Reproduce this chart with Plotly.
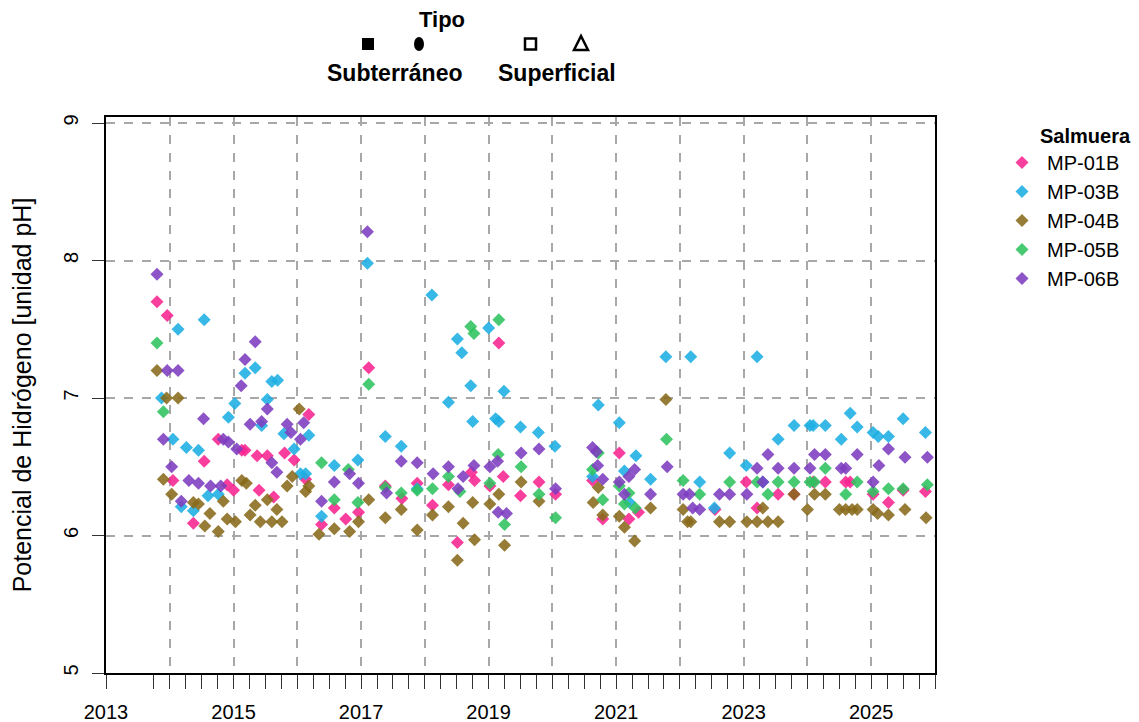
import plotly.graph_objects as go

# fechas en años decimales, pH
mp01b_x = [2013.80, 2013.96, 2014.05, 2014.37, 2014.54, 2014.76, 2014.90, 2015.00, 2015.13, 2015.18,
           2015.37, 2015.40, 2015.53, 2015.63, 2015.80, 2015.95, 2016.13, 2016.18, 2016.38, 2016.58,
           2016.76, 2016.96, 2017.12, 2017.38, 2017.64, 2017.88, 2018.12, 2018.37, 2018.51, 2018.73,
           2018.78, 2019.02, 2019.16, 2019.23, 2019.50, 2019.79, 2020.05, 2020.63, 2020.79, 2021.05,
           2021.20, 2021.35, 2022.55, 2023.04, 2023.21, 2023.54, 2023.79, 2024.09, 2024.28, 2024.60,
           2024.67, 2025.03, 2025.27, 2025.50, 2025.85]
mp01b_y = [7.70, 7.60, 6.40, 6.09, 6.54, 6.70, 6.37, 6.33, 6.62, 6.62,
           6.58, 6.33, 6.58, 6.28, 6.60, 6.55, 6.41, 6.88, 6.08, 6.20,
           6.12, 6.17, 7.22, 6.36, 6.27, 6.38, 6.22, 6.37, 5.95, 6.46,
           6.40, 6.36, 7.40, 6.43, 6.29, 6.39, 6.30, 6.40, 6.12, 6.60,
           6.12, 6.17, 6.19, 6.39, 6.20, 6.30, 6.30, 6.39, 6.39, 6.39,
           6.39, 6.30, 6.24, 6.33, 6.32]

mp03b_x = [2013.87, 2014.05, 2014.13, 2014.18, 2014.26, 2014.37, 2014.45, 2014.54, 2014.60, 2014.76,
           2014.92, 2015.02, 2015.18, 2015.34, 2015.44, 2015.53, 2015.60, 2015.69, 2015.79, 2015.95,
           2016.05, 2016.13, 2016.18, 2016.38, 2016.58, 2016.95, 2017.10, 2017.38, 2017.63, 2017.88,
           2018.11, 2018.37, 2018.51, 2018.58, 2018.72, 2018.75, 2019.00, 2019.11, 2019.16, 2019.24,
           2019.50, 2019.78, 2020.04, 2020.63, 2020.72, 2021.05, 2021.13, 2021.21, 2021.31, 2021.54,
           2021.78, 2022.17, 2022.31, 2022.54, 2022.78, 2023.04, 2023.21, 2023.30, 2023.54, 2023.79,
           2024.04, 2024.09, 2024.28, 2024.53, 2024.67, 2024.78, 2025.03, 2025.11, 2025.27, 2025.50,
           2025.85]
mp03b_y = [7.00, 6.70, 7.50, 6.21, 6.64, 6.18, 6.62, 7.57, 6.29, 6.30,
           6.86, 6.96, 7.18, 7.22, 6.80, 6.99, 7.12, 7.13, 6.74, 6.63,
           6.45, 6.45, 6.73, 6.14, 6.51, 6.55, 7.98, 6.72, 6.65, 6.34,
           7.75, 6.97, 7.43, 7.33, 7.09, 6.83, 7.51, 6.85, 6.83, 7.05,
           6.79, 6.75, 6.65, 6.43, 6.95, 6.82, 6.47, 6.24, 6.58, 6.41,
           7.30, 7.30, 6.39, 6.20, 6.60, 6.51, 7.30, 6.39, 6.70, 6.80,
           6.80, 6.80, 6.80, 6.70, 6.89, 6.79, 6.75, 6.72, 6.72, 6.85,
           6.75]

mp04b_x = [2013.80, 2013.90, 2013.95, 2014.03, 2014.13, 2014.37, 2014.45, 2014.55, 2014.63, 2014.76,
           2014.84, 2014.90, 2015.03, 2015.13, 2015.20, 2015.26, 2015.34, 2015.42, 2015.53, 2015.60,
           2015.68, 2015.76, 2015.84, 2015.92, 2016.03, 2016.13, 2016.18, 2016.34, 2016.58, 2016.82,
           2016.96, 2017.12, 2017.38, 2017.63, 2017.88, 2018.12, 2018.37, 2018.51, 2018.60, 2018.75,
           2018.78, 2019.02, 2019.16, 2019.25, 2019.51, 2019.79, 2020.64, 2020.72, 2020.79, 2021.05,
           2021.13, 2021.29, 2021.54, 2021.78, 2022.05, 2022.12, 2022.17, 2022.62, 2022.78, 2023.05,
           2023.21, 2023.30, 2023.38, 2023.54, 2023.79, 2024.00, 2024.11, 2024.28, 2024.50, 2024.60,
           2024.70, 2024.78, 2025.03, 2025.10, 2025.27, 2025.53, 2025.86]
mp04b_y = [7.20, 6.41, 7.00, 6.30, 7.00, 6.24, 6.23, 6.07, 6.16, 6.03,
           6.25, 6.12, 6.10, 6.40, 6.38, 6.15, 6.22, 6.10, 6.26, 6.10,
           6.19, 6.10, 6.36, 6.43, 6.92, 6.32, 6.36, 6.01, 6.05, 6.03,
           6.10, 6.26, 6.13, 6.19, 6.04, 6.15, 6.21, 5.82, 6.09, 6.24,
           5.97, 6.23, 6.30, 5.93, 6.39, 6.25, 6.24, 6.35, 6.15, 6.14,
           6.06, 5.96, 6.20, 6.99, 6.19, 6.10, 6.10, 6.10, 6.10, 6.10,
           6.10, 6.20, 6.10, 6.10, 6.30, 6.19, 6.30, 6.30, 6.19, 6.19,
           6.19, 6.19, 6.19, 6.16, 6.15, 6.19, 6.13]

mp05b_x = [2013.80, 2013.90, 2016.38, 2016.58, 2016.80, 2016.95, 2017.12, 2017.38, 2017.63, 2017.88,
           2018.12, 2018.37, 2018.55, 2018.72, 2018.77, 2019.02, 2019.15, 2019.16, 2019.25, 2019.51,
           2019.79, 2020.05, 2020.63, 2020.72, 2020.79, 2021.05, 2021.13, 2021.20, 2021.30, 2021.79,
           2022.05, 2022.31, 2022.78, 2023.21, 2023.38, 2023.54, 2023.79, 2024.04, 2024.11, 2024.28,
           2024.60, 2024.78, 2025.03, 2025.27, 2025.50, 2025.88]
mp05b_y = [7.40, 6.90, 6.53, 6.26, 6.48, 6.24, 7.10, 6.35, 6.31, 6.33,
           6.34, 6.43, 6.32, 7.52, 7.47, 6.38, 6.59, 7.57, 6.08, 6.50,
           6.30, 6.13, 6.48, 6.60, 6.26, 6.36, 6.23, 6.31, 6.20, 6.70,
           6.40, 6.30, 6.39, 6.39, 6.30, 6.39, 6.39, 6.39, 6.39, 6.49,
           6.30, 6.39, 6.32, 6.34, 6.34, 6.37]

mp06b_x = [2013.80, 2013.90, 2013.96, 2014.03, 2014.13, 2014.18, 2014.30, 2014.45, 2014.53, 2014.64,
           2014.80, 2014.84, 2014.92, 2015.05, 2015.12, 2015.18, 2015.26, 2015.34, 2015.44, 2015.53,
           2015.60, 2015.68, 2015.84, 2015.90, 2016.05, 2016.10, 2016.38, 2016.58, 2016.82, 2016.96,
           2017.10, 2017.40, 2017.63, 2017.88, 2018.13, 2018.37, 2018.52, 2018.60, 2018.77, 2019.02,
           2019.14, 2019.15, 2019.28, 2019.51, 2019.79, 2020.05, 2020.63, 2020.69, 2020.71, 2020.79,
           2021.05, 2021.13, 2021.20, 2021.29, 2021.54, 2021.80, 2022.05, 2022.15, 2022.20, 2022.31,
           2022.62, 2022.78, 2023.05, 2023.21, 2023.30, 2023.38, 2023.54, 2023.79, 2024.04, 2024.11,
           2024.28, 2024.53, 2024.60, 2024.78, 2025.03, 2025.12, 2025.27, 2025.53, 2025.88]
mp06b_y = [7.90, 6.70, 7.20, 6.50, 7.20, 6.25, 6.40, 6.38, 6.85, 6.36,
           6.36, 6.70, 6.68, 6.63, 7.09, 7.28, 6.81, 7.41, 6.83, 6.92,
           6.53, 6.46, 6.81, 6.75, 6.70, 6.82, 6.25, 6.39, 6.45, 6.38,
           8.21, 6.31, 6.54, 6.53, 6.45, 6.50, 6.34, 6.43, 6.51, 6.50,
           6.54, 6.17, 6.16, 6.60, 6.63, 6.34, 6.64, 6.61, 6.51, 6.41,
           6.39, 6.30, 6.43, 6.48, 6.30, 6.50, 6.30, 6.30, 6.20, 6.19,
           6.30, 6.30, 6.30, 6.49, 6.39, 6.59, 6.49, 6.49, 6.49, 6.59,
           6.59, 6.49, 6.49, 6.59, 6.39, 6.51, 6.63, 6.57, 6.57]

series = [
    ("MP-01B", mp01b_x, mp01b_y, "#F7248F"),
    ("MP-03B", mp03b_x, mp03b_y, "#1DAEE3"),
    ("MP-04B", mp04b_x, mp04b_y, "#876A1A"),
    ("MP-05B", mp05b_x, mp05b_y, "#2DC35E"),
    ("MP-06B", mp06b_x, mp06b_y, "#7D3CBF"),
]

year_labels = [2013, 2015, 2017, 2019, 2021, 2023, 2025]
y_ticks = [5, 6, 7, 8, 9]

FONT = "Liberation Sans"
OFF = 8  # margen del body en la página
W, H = 1139, 722
# bordes del área de datos en coordenadas de la página
PL, PR, PT, PB = 106, 935, 117, 673
L, T = PL - OFF, PT - OFF
R, B = W - (PR - OFF), H - (PB - OFF)


def px(x):
    return (x - PL) / (PR - PL)


def py(y):
    return (PB - y) / (PB - PT)


fig = go.Figure()

for name, xs, ys, color in series:
    fig.add_trace(
        go.Scatter(
            x=xs,
            y=ys,
            mode="markers",
            name=name,
            marker=dict(symbol="diamond", size=10, color=color, opacity=0.88, line=dict(width=0)),
        )
    )

years = list(range(2013, 2027))
quarters = [2013.75 + 0.25 * i for i in range(50)]

fig.update_xaxes(
    range=[2013, 2026],
    tickmode="array",
    tickvals=years,
    ticktext=[str(y) if y in year_labels else "" for y in years],
    ticks="outside",
    ticklen=14,
    tickcolor="#333",
    tickwidth=1,
    ticklabelstandoff=6,
    showgrid=True,
    gridcolor="#a8a8a8",
    griddash="dash",
    gridwidth=1.5,
    minor=dict(tickvals=quarters, ticks="outside", ticklen=14, tickcolor="#333", showgrid=False),
    showline=True,
    linecolor="black",
    linewidth=1.5,
    mirror=True,
    zeroline=False,
    automargin=False,
    tickfont=dict(size=20, color="black", family=FONT),
)

fig.update_yaxes(
    range=[5, 9.044],
    tickvals=y_ticks,
    tickangle=-90,
    ticks="outside",
    ticklen=12,
    tickcolor="#333",
    ticklabelstandoff=6,
    showgrid=True,
    gridcolor="#a8a8a8",
    griddash="dash",
    gridwidth=1.5,
    showline=True,
    linecolor="black",
    linewidth=1.5,
    mirror=True,
    zeroline=False,
    automargin=False,
    tickfont=dict(size=20, color="black", family=FONT),
    title=dict(text="Potencial de Hidrógeno [unidad pH]", font=dict(size=25, color="black", family=FONT), standoff=22),
)

# leyenda de "Tipo" arriba
shapes = [
    dict(type="rect", x0=px(362), x1=px(374), y0=py(50), y1=py(38), fillcolor="black", line=dict(width=0)),
    dict(type="circle", x0=px(414), x1=px(424), y0=py(51), y1=py(37), fillcolor="black", line=dict(width=0)),
    dict(type="rect", x0=px(525), x1=px(536), y0=py(49.5), y1=py(38.5), fillcolor="white", line=dict(color="black", width=2.5)),
    dict(
        type="path",
        path=f"M {px(574)} {py(50)} L {px(588)} {py(50)} L {px(581)} {py(36)} Z",
        fillcolor="white",
        line=dict(color="black", width=2.5),
    ),
]
for s in shapes:
    s.update(xref="paper", yref="paper")

annotations = [
    dict(text="<b>Tipo</b>", x=px(442), y=py(20), size=22),
    dict(text="<b>Subterráneo</b>", x=px(394), y=py(73), size=23),
    dict(text="<b>Superficial</b>", x=px(557), y=py(73), size=23),
    dict(text="<b>Salmuera</b>", x=px(1085), y=py(136), size=20),
]
for a in annotations:
    a.update(xref="paper", yref="paper", showarrow=False, xanchor="center", yanchor="middle",
             font=dict(size=a.pop("size"), color="black", family=FONT))

fig.update_layout(
    width=W,
    height=H,
    margin=dict(l=L, r=R, t=T, b=B),
    plot_bgcolor="white",
    paper_bgcolor="white",
    font=dict(family=FONT, color="black"),
    shapes=shapes,
    annotations=annotations,
    legend=dict(
        x=px(997),
        y=py(143),
        xanchor="left",
        yanchor="top",
        font=dict(size=20, family=FONT),
        bgcolor="rgba(0,0,0,0)",
        tracegroupgap=0,
        itemwidth=40,
    ),
)

fig.write_html("out.html")
